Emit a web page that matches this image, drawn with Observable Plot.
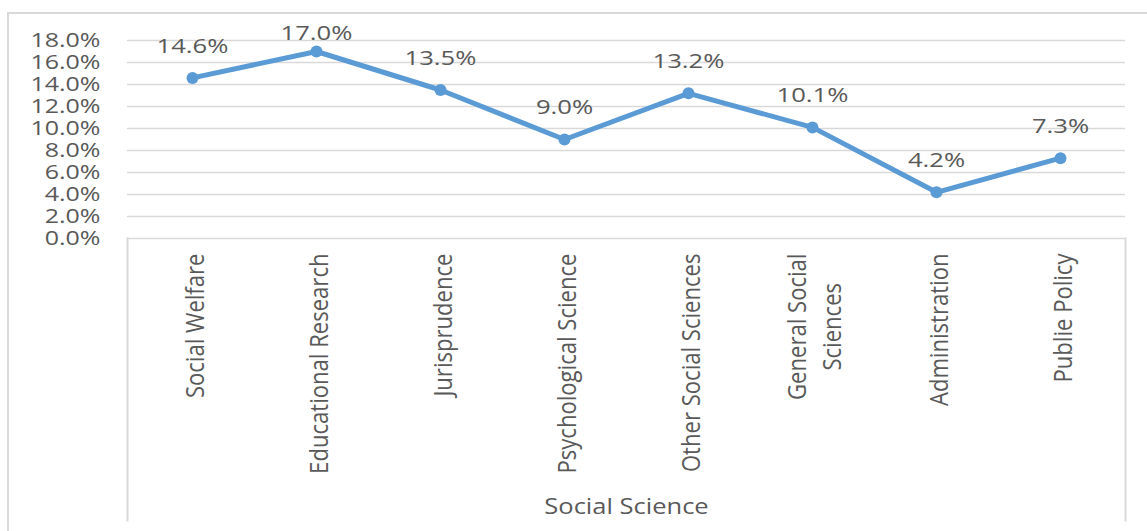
<!DOCTYPE html>
<html>
<head>
<meta charset="utf-8">
<script src="https://cdn.jsdelivr.net/npm/d3@7"></script>
<script src="https://cdn.jsdelivr.net/npm/@observablehq/plot@0.6"></script>
<style>
  html, body { margin: 0; padding: 0; background: #fff; overflow: hidden; }
  #wrap { position: relative; width: 1147px; height: 531px; overflow: hidden; }
  #border { position: absolute; left: 7px; top: 12px; width: 2000px; height: 2000px;
            border-left: 2px solid #d9d9d9; border-top: 2px solid #d9d9d9; }
  #chart { position: absolute; left: 0; top: 0; }
  #chart svg { font-family: "Open Sans", sans-serif; }
  g[aria-label="y-axis tick label"] text { font-size: 20px; fill: #595959; }
  g[aria-label="x-axis tick label"] text { font-size: 26px; fill: #595959; }
  g[aria-label="x-axis label"] text { font-size: 22px; fill: #595959; }
</style>
</head>
<body>
<div id="wrap">
  <div id="border"></div>
  <div id="chart"></div>
</div>
<script>
// Share of publications by social-science field
const categories = [
  "Social Welfare",
  "Educational Research",
  "Jurisprudence",
  "Psychological Science",
  "Other Social Sciences",
  "General Social\nSciences",
  "Administration",
  "Publie Policy"
];
const shares = [14.6, 17.0, 13.5, 9.0, 13.2, 10.1, 4.2, 7.3];
const yTicks = [0, 2, 4, 6, 8, 10, 12, 14, 16, 18];
const axisTitle = "Social Science";

const data = categories.map((c, i) => ({category: c, share: shares[i]}));

const W = 1147, H = 531;
const M = {top: 40, right: 22, bottom: 293, left: 127};
const plotHeight = H - M.top - M.bottom;
const boxDepth = 282;            // how far the category box runs below the axis
const blue = "#5b9bd5", grid = "#d9d9d9", ink = "#595959";
const pct = v => v.toFixed(1) + "%";

const chart = Plot.plot({
  width: W,
  height: H,
  marginTop: M.top,
  marginRight: M.right,
  marginBottom: M.bottom,
  marginLeft: M.left,
  style: {background: "transparent", color: ink},
  x: {type: "band", domain: categories, padding: 0},
  y: {domain: [0, 18]},
  marks: [
    Plot.gridY(yTicks, {stroke: grid, strokeOpacity: 1, strokeWidth: 1.5}),
    // category box under the axis
    Plot.frame({anchor: "left", insetTop: plotHeight, insetBottom: -boxDepth, stroke: grid, strokeWidth: 2}),
    Plot.frame({anchor: "right", insetTop: plotHeight, insetBottom: -boxDepth, stroke: grid, strokeWidth: 2}),
    Plot.axisY({ticks: yTicks, tickFormat: pct, tickSize: 0, tickPadding: 27, label: null}),
    Plot.axisX({
      tickRotate: -90, tickSize: 0, tickPadding: 15, lineHeight: 1.35,
      label: axisTitle, labelAnchor: "center", labelOffset: 275, labelArrow: "none"
    }),
    Plot.line(data, {x: "category", y: "share", stroke: blue, strokeWidth: 5, strokeLinejoin: "round"}),
    Plot.dot(data, {x: "category", y: "share", r: 6, fill: blue, stroke: "none"}),
    Plot.text(data, {
      x: "category",
      y: d => Math.min(d.share + 2.9, 18.6),
      text: d => pct(d.share),
      fontSize: 20.5,
      fill: ink
    })
  ]
});

document.getElementById("chart").appendChild(chart);

// widen a text horizontally about its anchor by wrapping it in a scaled group
function widen(node, sx) {
  const g = document.createElementNS("http://www.w3.org/2000/svg", "g");
  node.parentNode.insertBefore(g, node);
  g.appendChild(node);
  const bb = g.getBBox();
  const anchor = getComputedStyle(node).textAnchor;
  const ax = anchor === "end" ? bb.x + bb.width
           : anchor === "middle" ? bb.x + bb.width / 2
           : bb.x;
  g.setAttribute("transform", `translate(${ax},0) scale(${sx},1) translate(${-ax},0)`);
}

// condense a rotated category label along its length; two-line labels are centered in their block
const squeeze = 0.85;
function condense(t) {
  const base = t.getAttribute("transform") || "";
  if (t.querySelectorAll("tspan").length > 1) {
    const len = t.getBBox().width * squeeze;
    t.setAttribute("text-anchor", "middle");
    t.setAttribute("transform", `translate(0,${len / 2}) ${base} scale(${squeeze},1)`);
  } else {
    t.setAttribute("transform", `${base} scale(${squeeze},1)`);
  }
}

Array.from(chart.querySelectorAll("text")).forEach(t => {
  const owner = t.closest("g[aria-label]");
  const role = owner ? owner.getAttribute("aria-label") : "";
  if (role === "x-axis tick label") condense(t);
  else if (role === "y-axis tick label") widen(t, 1.25);
  else if (role === "x-axis label") widen(t, 1.16);
  else widen(t, 1.25);
});
</script>
</body>
</html>
